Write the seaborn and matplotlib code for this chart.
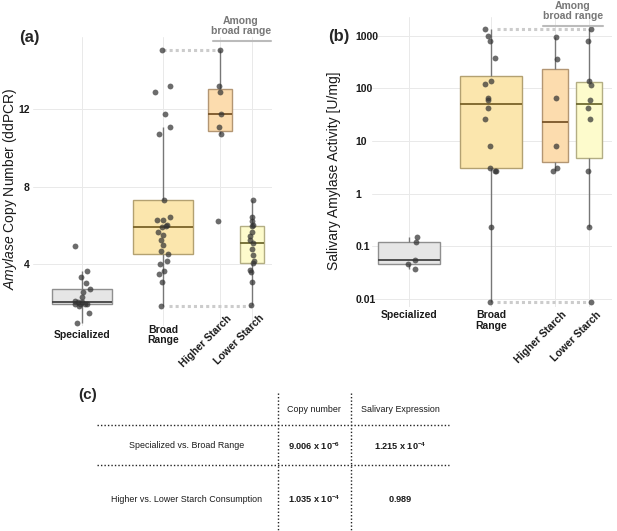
import numpy as np
import pandas as pd
import seaborn as sns
import matplotlib.pyplot as plt
from matplotlib.lines import Line2D

sns.set_theme(style="whitegrid")
plt.rcParams['font.family'] = ['Liberation Sans', 'DejaVu Sans']
plt.rcParams['mathtext.fontset'] = 'custom'
plt.rcParams['mathtext.rm'] = 'Liberation Sans'
plt.rcParams['mathtext.it'] = 'Liberation Sans:italic'
plt.rcParams['mathtext.bf'] = 'Liberation Sans:bold'

# groups and data
groups = ["Specialized", "Broad Range", "Higher Starch", "Lower Starch"]
tick_labels = ["Specialized", "Broad\nRange", "Higher Starch", "Lower Starch"]

# (a) amylase copy number (ddPCR)
copy_specialized = [4.93, 3.66, 3.31, 3.04, 2.71, 2.56, 2.31, 2.11, 2.04, 2.04,
                    1.95, 1.95, 1.95, 1.95, 1.84, 1.49, 0.97]
copy_broad = [15.04, 13.2, 12.9, 11.75, 11.07, 10.7, 7.33, 6.44, 6.27, 6.27,
              6.04, 5.95, 5.92, 5.64, 5.52, 5.22, 5.0, 4.66, 4.5, 4.16, 4.0,
              3.66, 3.5, 3.05, 1.84]
copy_higher = [15.04, 13.2, 12.9, 11.75, 11.07, 10.7, 6.2]
copy_lower = [7.3, 6.42, 6.23, 6.0, 5.95, 5.63, 5.46, 5.22, 5.1, 4.77, 4.44,
              4.15, 4.03, 3.69, 3.57, 3.07, 1.87]

# (b) salivary amylase activity [U/mg]
act_specialized = [0.153, 0.122, 0.0547, 0.0452, 0.0369]
act_broad = [1320, 987, 804, 372, 136, 120, 66, 61, 42.6, 26, 8.07, 3.13,
             2.75, 2.75, 0.231, 0.0087]
act_higher = [960, 365, 66, 8.07, 3.13, 2.75]
act_lower = [1320, 780, 136, 117, 60, 42.6, 25.8, 2.7, 0.231, 0.0087]

# (c) p-values table
table_cols = ["Copy number", "Salivary Expression"]
table_rows = ["Specialized vs. Broad Range", "Higher vs. Lower Starch Consumption"]
table_vals = [[r"$\mathbf{9.006\ x\ 10^{-6}}$", r"$\mathbf{1.215\ x\ 10^{-4}}$"],
              [r"$\mathbf{1.035\ x\ 10^{-4}}$", r"$\mathbf{0.989}$"]]

pos_a = [0, 1, 1.70, 2.10]
pos_b = [0, 1, 1.78, 2.20]
widths = [0.75, 0.75, 0.75, 0.75]   # relative to native spacing
jitters = [0.1, 0.1, 0.06, 0.06]
fills = ["#e6e6e6", "#fbe6ad", "#fcdcae", "#fdfbcc"]
edges = ["#8f8f8f", "#b3a171", "#b39673", "#b3ae84"]
medians = ["#444444", "#7a6328", "#7a5528", "#6f6a30"]

np.random.seed(7)
fig = plt.figure(figsize=(6.17, 5.31), dpi=100)
ax_a = fig.add_axes([33/617, 1-326/531, 239/617, 289/531])
ax_b = fig.add_axes([372/617, 1-307/531, 240/617, 290/531])


def draw_panel(ax, series, pos, log, lab_y, lab_va, rot_y):
    sub_w = pos[3] - pos[2]
    for i, vals in enumerate(series):
        df = pd.DataFrame({"x": [pos[i]] * len(vals), "y": vals})
        w = widths[i] if i < 2 else widths[i] * sub_w
        sns.boxplot(data=df, x="x", y="y", native_scale=True, width=w,
                    showfliers=False, color=fills[i], saturation=1,
                    linecolor=edges[i], linewidth=1,
                    whiskerprops=dict(color="#777777", linewidth=1),
                    capprops=dict(visible=False),
                    medianprops=dict(color=medians[i], linewidth=1.3),
                    log_scale=(False, log), ax=ax, zorder=2)
        j = jitters[i] if i < 2 else jitters[i] * sub_w
        sns.stripplot(data=df, x="x", y="y", native_scale=True, jitter=j,
                      color="#333333", alpha=0.72, size=4.2, linewidth=0,
                      log_scale=(False, log), ax=ax, zorder=4)
    ax.grid(True, color="#e9e9e9", linewidth=0.7)
    ax.set_axisbelow(True)
    sns.despine(ax=ax, left=True, bottom=True)
    ax.set_xticks(pos)
    ax.set_xticklabels([])
    ax.tick_params(axis="both", length=0)
    ax.set_xlabel("")
    ax.set_ylabel("")
    for i in range(2):
        ax.text(pos[i], lab_y, tick_labels[i], transform=ax.get_xaxis_transform(),
                ha="center", va=lab_va, fontsize=7.5, fontweight="bold",
                color="#1a1a1a", linespacing=1.1)
    for i in range(2, 4):
        ax.text(pos[i] + 0.08, rot_y, tick_labels[i], transform=ax.get_xaxis_transform(),
                ha="right", va="top", rotation=45, rotation_mode="anchor",
                fontsize=7.5, fontweight="bold", color="#1a1a1a")


# panel (a)
series_a = [copy_specialized, copy_broad, copy_higher, copy_lower]
draw_panel(ax_a, series_a, pos_a, False, -0.031, "center", 0.045)
ax_a.plot([pos_a[1], pos_a[2]], [max(copy_broad)] * 2, color="#cccccc",
          lw=2.2, ls=(0, (1, 1)), zorder=1)
ax_a.plot([pos_a[1] + 0.08, pos_a[3]], [min(copy_broad)] * 2, color="#cccccc",
          lw=2.2, ls=(0, (1, 1)), zorder=1)
ax_a.set_xlim(-0.605, 2.346)
ax_a.set_ylim(0.80, 15.72)
ax_a.set_yticks([4, 8, 12])
ax_a.set_yticklabels(["4", "8", "12"], fontweight="bold", fontsize=7.5, color="#1a1a1a")
ax_a.tick_params(axis="y", pad=2.5)
fig.text(10/617, 1-189/531, r"$\mathit{Amylase}$ Copy Number (ddPCR)", fontsize=10,
         color="#1a1a1a", rotation=90, ha="center", va="center")

# panel (b)
series_b = [act_specialized, act_broad, act_higher, act_lower]
draw_panel(ax_b, series_b, pos_b, True, -0.012, "top", -0.01)
ax_b.plot([pos_b[1] + 0.08, pos_b[3]], [max(act_broad)] * 2, color="#cccccc",
          lw=2.2, ls=(0, (1, 1)), zorder=1)
ax_b.plot([pos_b[1] + 0.08, pos_b[3]], [min(act_broad)] * 2, color="#cccccc",
          lw=2.2, ls=(0, (1, 1)), zorder=1)
ax_b.set_xlim(-0.45, 2.476)
ax_b.set_ylim(10 ** -2.152, 10 ** 3.355)
ax_b.set_yticks([0.01, 0.1, 1, 10, 100, 1000])
ax_b.set_yticklabels(["0.01", "0.1", "1", "10", "100", "1000"],
                     fontweight="bold", fontsize=7.5, color="#1a1a1a", ha="left")
ax_b.minorticks_off()
ax_b.tick_params(axis="y", pad=12)
fig.text(334/617, 1-171/531, "Salivary Amylase Activity [U/mg]", fontsize=10,
         color="#1a1a1a", rotation=90, ha="center", va="center")

# panel letters and "Among broad range" brackets
fig.text(19/617, 1-37/531, "(a)", fontsize=12, fontweight="bold", ha="left", va="center")
fig.text(328/617, 1-36/531, "(b)", fontsize=12, fontweight="bold", ha="left", va="center")
fig.text(241/617, 1-26/531, "Among\nbroad range", fontsize=7.5, fontweight="bold",
         color="#777777", ha="center", va="center", linespacing=1.05)
fig.add_artist(Line2D([213/617, 271/617], [1-41/531] * 2, color="#bbbbbb", lw=1.5))
fig.text(573/617, 1-11/531, "Among\nbroad range", fontsize=7.5, fontweight="bold",
         color="#777777", ha="center", va="center", linespacing=1.05)
fig.add_artist(Line2D([543/617, 603/617], [1-26/531] * 2, color="#bbbbbb", lw=1.5))

# panel (c): table
ax_c = fig.add_axes([0, 0, 1, 151/531])
ax_c.set_xlim(0, 617)
ax_c.set_ylim(531, 380)
ax_c.axis("off")
dot = dict(color="#222222", lw=1, ls=(0, (1, 1.5)))
for xv in [278, 351]:
    ax_c.plot([xv, xv], [393, 531], **dot)
for yv in [425, 465]:
    ax_c.plot([97, 449], [yv, yv], **dot)
ax_c.text(88, 395, "(c)", fontsize=11, fontweight="bold", ha="center", va="center")
col_x = [314, 400]
row_y = [446, 499]
for cx, name in zip(col_x, table_cols):
    ax_c.text(cx, 409, name, fontsize=6.4, ha="center", va="center", color="#1a1a1a")
for ry, name, vals in zip(row_y, table_rows, table_vals):
    ax_c.text(187, ry, name, fontsize=6.4, ha="center", va="center", color="#1a1a1a")
    for cx, v in zip(col_x, vals):
        ax_c.text(cx, ry, v, fontsize=6.6, ha="center", va="center", color="#1a1a1a")

fig.savefig("out.png", dpi=100)
